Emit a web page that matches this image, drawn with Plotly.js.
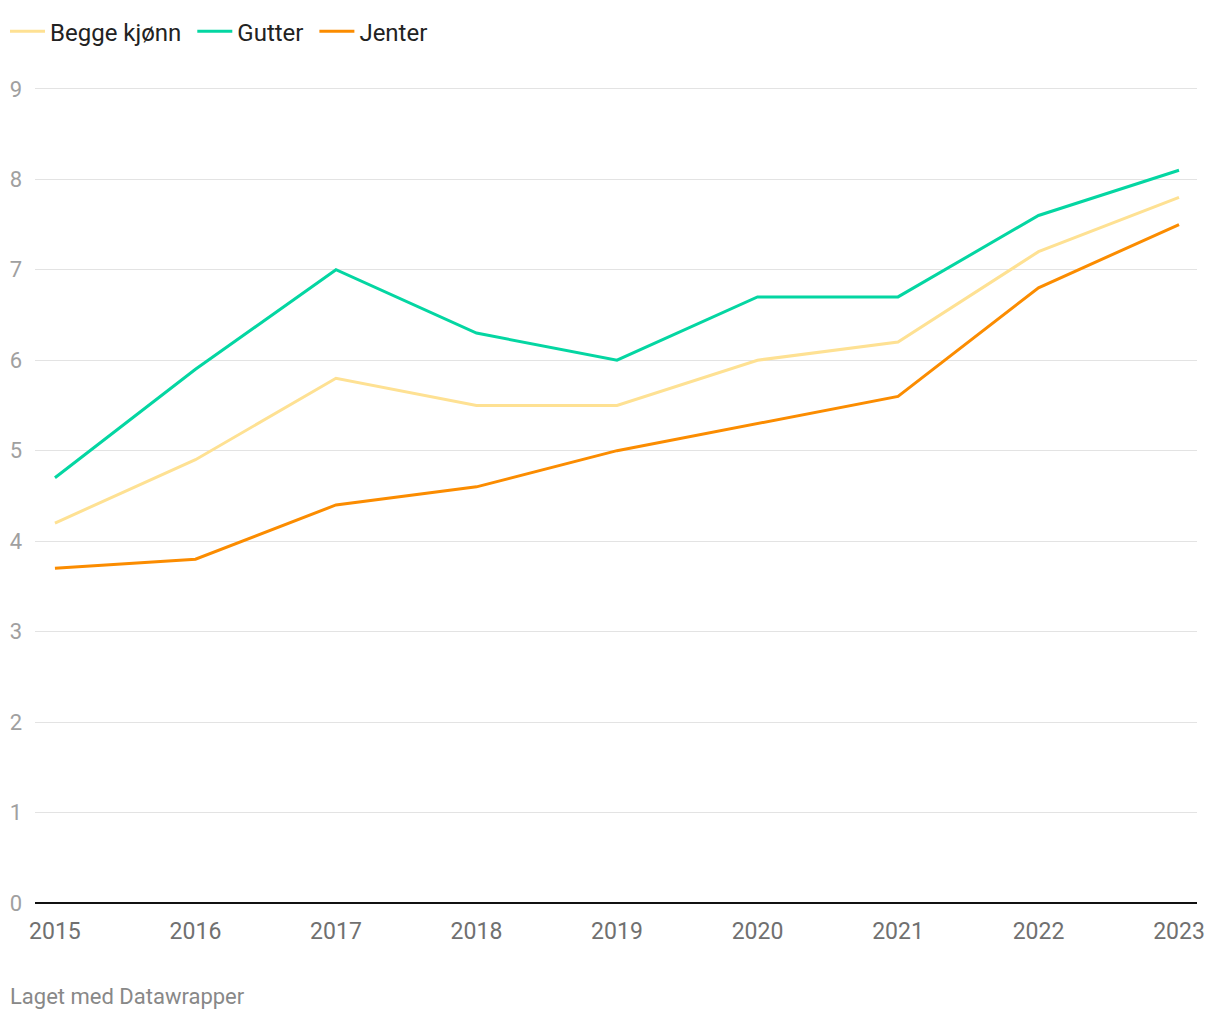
<!DOCTYPE html>
<html>
<head>
<meta charset="utf-8">
<script src="https://cdn.plot.ly/plotly-3.0.1.min.js"></script>
<style>
html,body{margin:0;padding:0;background:#fff;}
#chart{width:1220px;height:1020px;}
</style>
</head>
<body>
<div id="chart"></div>
<script>
const years = [2015, 2016, 2017, 2018, 2019, 2020, 2021, 2022, 2023];
const seriesNames = ["Begge kjønn", "Gutter", "Jenter"];
const beggeKjonn = [4.2, 4.9, 5.8, 5.5, 5.5, 6.0, 6.2, 7.2, 7.8];
const gutter = [4.7, 5.9, 7.0, 6.3, 6.0, 6.7, 6.7, 7.6, 8.1];
const jenter = [3.7, 3.8, 4.4, 4.6, 5.0, 5.3, 5.6, 6.8, 7.5];
const yTicks = [0, 1, 2, 3, 4, 5, 6, 7, 8, 9];
const colors = ["#fee193", "#04d6a2", "#fb8c00"];

const values = [beggeKjonn, gutter, jenter];
const traces = values.map((v, i) => ({
  x: years, y: v, name: seriesNames[i] + "\u00a0", type: "scatter", mode: "lines",
  line: {color: colors[i], width: 3},
  hoverinfo: "x+y+name", cliponaxis: false
}));

const layout = {
  width: 1220, height: 1020,
  margin: {l: 35, r: 23, t: 87, b: 117},
  paper_bgcolor: "#fff", plot_bgcolor: "#fff",
  font: {family: "Roboto, sans-serif", size: 20, color: "#222"},
  showlegend: true,
  legend: {orientation: "h", x: 0.0041, xanchor: "left", y: 0.969, yanchor: "middle",
    xref: "container", yref: "container", itemwidth: 35,
    font: {size: 24, color: "#222"}, bgcolor: "rgba(0,0,0,0)", traceorder: "normal"},
  xaxis: {
    range: [2014.858, 2023.128], tickvals: years, ticktext: years.map(String),
    showgrid: false, zeroline: false, showline: false, ticks: "",
    ticklabelstandoff: 12,
    tickfont: {size: 23, color: "#707070"}, fixedrange: true
  },
  yaxis: {
    range: [0, 9.02], tickvals: yTicks, ticktext: yTicks.map(String),
    showgrid: true, gridcolor: "#e3e3e3", gridwidth: 1,
    zeroline: true, zerolinecolor: "#111", zerolinewidth: 2,
    showline: false, ticks: "", ticklabelstandoff: 12,
    tickfont: {size: 22, color: "#a0a0a0"}, fixedrange: true
  },
  annotations: [{
    text: "Laget med Datawrapper", xref: "paper", yref: "paper",
    x: -0.0232, y: -0.114, xanchor: "left", yanchor: "middle", showarrow: false,
    font: {size: 22, color: "#888"}
  }]
};
Plotly.newPlot("chart", traces, layout, {displayModeBar: false, staticPlot: true});
</script>
</body>
</html>
